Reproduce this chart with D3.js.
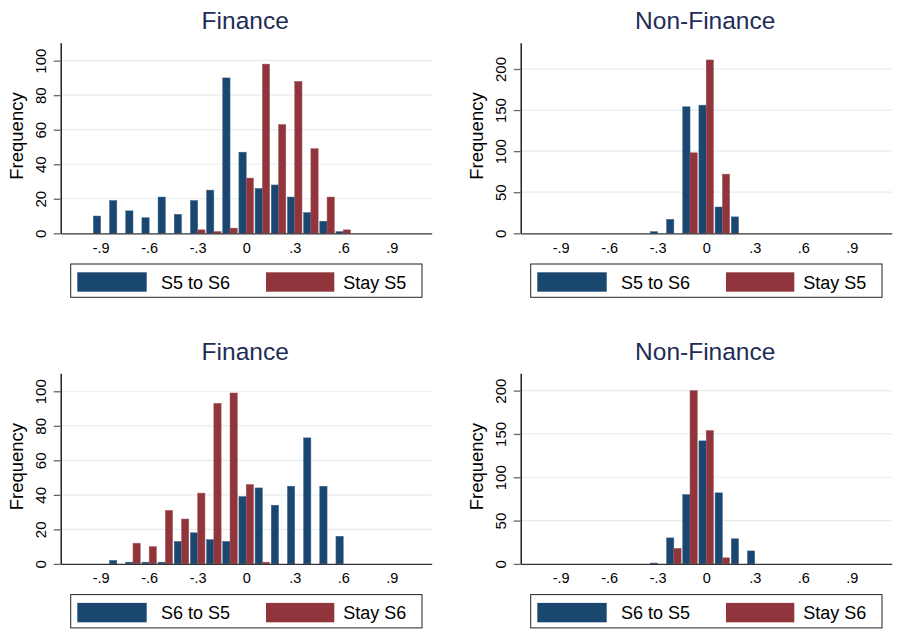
<!DOCTYPE html>
<html>
<head>
<meta charset="utf-8">
<script src="https://cdn.jsdelivr.net/npm/d3@7/dist/d3.min.js"></script>
<style>
  html, body { margin: 0; padding: 0; background: #ffffff; }
  svg { display: block; font-family: "Liberation Sans", Arial, Helvetica, sans-serif; }
</style>
</head>
<body>
<svg id="chart" width="899" height="634"></svg>
<script>
// ---- data ----
const bins = [-0.9, -0.8, -0.7, -0.6, -0.5, -0.4, -0.3, -0.2, -0.1, 0, 0.1, 0.2, 0.3, 0.4, 0.5, 0.6];
const xTicks = [-0.9, -0.6, -0.3, 0, 0.3, 0.6, 0.9];
const xTickLabels = ["-.9", "-.6", "-.3", "0", ".3", ".6", ".9"];
const yTicksFinance = [0, 20, 40, 60, 80, 100];
const yTicksNonFinance = [0, 50, 100, 150, 200];

const financeS5toS6   = [10, 19, 13, 9, 21, 11, 19, 25, 90, 47, 26, 28, 21, 12, 7, 1];
const financeStayS5   = [0, 0, 0, 0, 0, 0, 2, 1, 3, 32, 98, 63, 88, 49, 21, 2];
const nonFinS5toS6    = [0, 0, 0, 0, 0, 0, 2, 17, 154, 156, 32, 20, 0, 0, 0, 0];
const nonFinStayS5    = [0, 0, 0, 0, 0, 0, 0, 0, 98, 211, 72, 0, 0, 0, 0, 0];
const financeS6toS5   = [0, 2, 1, 1, 1, 13, 18, 14, 13, 39, 44, 34, 45, 73, 45, 16];
const financeStayS6   = [0, 0, 12, 10, 31, 26, 41, 93, 99, 46, 1, 0, 0, 0, 0, 0];
const nonFinS6toS5    = [0, 0, 0, 0, 0, 0, 1, 30, 80, 142, 82, 29, 15, 0, 0, 0];
const nonFinStayS6    = [0, 0, 0, 0, 0, 0, 0, 18, 200, 154, 7, 0, 0, 0, 0, 0];

const blue = "#1a476f";
const red = "#90353b";
const titleColor = "#1e2d55";

const panels = [
  { left: 60.7,  top: 42.7,  title: "Finance",     yMax: 110.4, yTicks: yTicksFinance,    move: financeS5toS6, stay: financeStayS5, moveLabel: "S5 to S6", stayLabel: "Stay S5" },
  { left: 520.7, top: 42.7,  title: "Non-Finance", yMax: 232,   yTicks: yTicksNonFinance, move: nonFinS5toS6,  stay: nonFinStayS5,  moveLabel: "S5 to S6", stayLabel: "Stay S5" },
  { left: 60.7,  top: 373.3, title: "Finance",     yMax: 110.4, yTicks: yTicksFinance,    move: financeS6toS5, stay: financeStayS6, moveLabel: "S6 to S5", stayLabel: "Stay S6" },
  { left: 520.7, top: 373.3, title: "Non-Finance", yMax: 220,   yTicks: yTicksNonFinance, move: nonFinS6toS5,  stay: nonFinStayS6,  moveLabel: "S6 to S5", stayLabel: "Stay S6" }
];

const plotW = 371;
const plotH = 190.6;
const barW = 0.045;

const svg = d3.select("#chart");

panels.forEach(p => {
  const g = svg.append("g").attr("transform", `translate(${p.left},${p.top})`);
  const x = d3.scaleLinear().domain([-1.147, 1.147]).range([0, plotW]);
  const y = d3.scaleLinear().domain([0, p.yMax]).range([plotH, 0]);

  // title
  g.append("text")
    .attr("x", plotW / 2 - 1).attr("y", -13.5)
    .attr("text-anchor", "middle")
    .attr("font-size", 24.5)
    .attr("fill", titleColor)
    .text(p.title);

  // gridlines
  g.append("g").selectAll("line")
    .data(p.yTicks.filter(d => d > 0))
    .join("line")
    .attr("x1", 0).attr("x2", plotW)
    .attr("y1", d => y(d)).attr("y2", d => y(d))
    .attr("stroke", "#e4ecf0").attr("stroke-width", 1.2);

  // bars
  g.append("g").selectAll("rect")
    .data(bins.map((b, i) => ({ b, v: p.move[i] })).filter(d => d.v > 0))
    .join("rect")
    .attr("x", d => x(d.b - barW))
    .attr("width", d => x(d.b) - x(d.b - barW))
    .attr("y", d => y(d.v))
    .attr("height", d => y(0) - y(d.v))
    .attr("fill", blue)
    .attr("stroke", "#3d6488").attr("stroke-width", 0.5);

  g.append("g").selectAll("rect")
    .data(bins.map((b, i) => ({ b, v: p.stay[i] })).filter(d => d.v > 0))
    .join("rect")
    .attr("x", d => x(d.b))
    .attr("width", d => x(d.b + barW) - x(d.b))
    .attr("y", d => y(d.v))
    .attr("height", d => y(0) - y(d.v))
    .attr("fill", red)
    .attr("stroke", "#a85a5f").attr("stroke-width", 0.5);

  // x axis
  const xAxis = d3.axisBottom(x)
    .tickValues(xTicks)
    .tickFormat((d, i) => xTickLabels[i])
    .tickSize(0)
    .tickPadding(9);
  const xg = g.append("g").attr("transform", `translate(0,${plotH})`).call(xAxis);
  xg.select(".domain").attr("stroke", "#333").attr("stroke-width", 1.3);
  xg.selectAll("text").attr("font-size", 14.5).attr("fill", "#000").attr("font-family", null);

  // y axis
  const yAxis = d3.axisLeft(y).tickValues(p.yTicks).tickSize(7).tickPadding(0).tickSizeOuter(0);
  const yg = g.append("g").call(yAxis);
  yg.select(".domain").attr("stroke", "#000").attr("stroke-width", 1.3);
  yg.selectAll(".tick line").attr("stroke", "#666").attr("stroke-width", 1.3);
  yg.selectAll(".tick text")
    .attr("font-size", 15).attr("fill", "#000").attr("font-family", null)
    .attr("x", null).attr("dy", null)
    .attr("text-anchor", "middle")
    .attr("transform", "translate(-15.2,0) rotate(-90)");

  // y title
  g.append("text")
    .attr("transform", `translate(-38.2,${plotH / 2 - 2}) rotate(-90)`)
    .attr("text-anchor", "middle")
    .attr("font-size", 18.5)
    .attr("fill", "#000")
    .text("Frequency");

  // legend
  const lg = g.append("g").attr("transform", `translate(10,${plotH + 30.7})`);
  lg.append("rect")
    .attr("x", 0).attr("y", 0).attr("width", 351.3).attr("height", 33.3)
    .attr("fill", "#fff").attr("stroke", "#222").attr("stroke-width", 1);
  lg.append("rect").attr("x", 6.6).attr("y", 8.3).attr("width", 69.4).attr("height", 19.4).attr("fill", blue);
  lg.append("text").attr("x", 90.3).attr("y", 24.5).attr("font-size", 18).attr("fill", "#000").text(p.moveLabel);
  lg.append("rect").attr("x", 195.3).attr("y", 8.3).attr("width", 68.3).attr("height", 19.4).attr("fill", red);
  lg.append("text").attr("x", 272.6).attr("y", 24.5).attr("font-size", 18).attr("fill", "#000").text(p.stayLabel);
});
</script>
</body>
</html>
